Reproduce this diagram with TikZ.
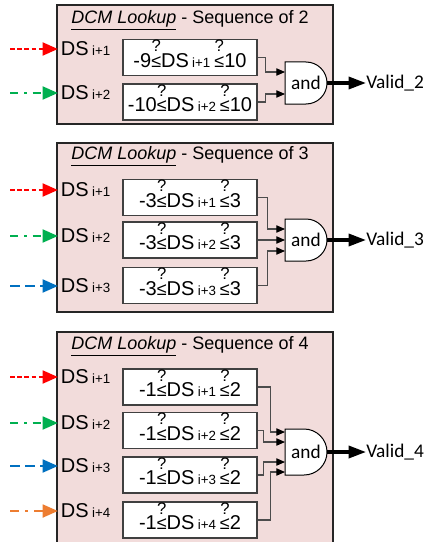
\documentclass[tikz,border=0pt]{standalone}
\usepackage{fontspec}
\setmainfont{Liberation Sans}
\newfontfamily\califont{Carlito}
\usetikzlibrary{arrows.meta}

\definecolor{panelfill}{HTML}{F2DCDB}
\definecolor{dcmred}{HTML}{FF0000}
\definecolor{dcmgreen}{HTML}{00B050}
\definecolor{dcmblue}{HTML}{0070C0}
\definecolor{dcmorange}{HTML}{ED7D31}

\newcommand{\bigsz}{\fontsize{15}{18}\selectfont}
\newcommand{\subsz}{\fontsize{10}{12}\selectfont}
\newsavebox\lebox
\newcommand{\qle}{\sbox\lebox{\fontsize{13.5}{15}\selectfont ≤}\rlap{\makebox[\wd\lebox]{\raisebox{11.6pt}{\fontsize{12.5}{14}\selectfont ?}}}\usebox\lebox}
\newcommand{\dslab}[1]{DS\,{\subsz i+#1}}
\newcommand{\lkrange}[3]{#1\qle DS\,{\subsz i+#2}\hspace{3pt}\qle #3}

\tikzset{
  panel/.style={draw=black!85, line width=0.9pt, fill=panelfill},
  titletext/.style={inner sep=0pt, font=\fontsize{13.5}{16}\selectfont},
  dslabel/.style={anchor=west, inner sep=2pt, font=\bigsz},
  rngbox/.style={draw=black!75, line width=0.9pt, fill=white, minimum width=100.5pt,
    minimum height=27pt, inner sep=0pt, text depth=6pt, font=\bigsz},
  gatebody/.style={draw=black, line width=0.75pt, fill=white},
  gatetext/.style={minimum width=31.5pt, inner sep=0pt, font=\califont\fontsize{14.5}{16}\selectfont},
  validtext/.style={anchor=west, inner sep=0pt, font=\califont\fontsize{14.5}{16}\selectfont},
  wire/.style={draw=black!70, line width=0.8pt, -{Triangle[length=6.5pt,width=5.5pt,color=black]}},
  outarrow/.style={draw=black, line width=2.5pt, -{Triangle[length=13pt,width=9pt]}},
  inarrow/.style={line width=2.1pt, -{Triangle[length=11.5pt,width=9.5pt]}},
  redin/.style={inarrow, draw=dcmred, dash pattern=on 3.4pt off 2pt},
  greenin/.style={inarrow, draw=dcmgreen, dash pattern=on 6pt off 4.5pt on 2pt off 4.5pt},
  bluein/.style={inarrow, draw=dcmblue, dash pattern=on 7.5pt off 3.75pt},
  orangein/.style={inarrow, draw=dcmorange, dash pattern=on 7pt off 4.5pt on 2pt off 4.5pt}
}

\begin{document}
\begin{tikzpicture}[x=0.75pt,y=-0.75pt]
\useasboundingbox (0,0) rectangle (429,542);

\draw[panel] (57,5) rectangle (333,124);
\node[titletext] (t1) at (190,20.5) {\underline{\textit{DCM Lookup}} - Sequence of 2};
\node[dslabel] (d11) at (58,49) {\dslab{1}};
\node[dslabel] (d12) at (58,93) {\dslab{2}};
\coordinate (s11) at (10,49);
\coordinate (s12) at (10,93);
\draw[redin] (s11) -- (d11.west);
\draw[greenin] (s12) -- (d12.west);
\node[rngbox] (b11) at (190,57.5) {\lkrange{-9}{1}{10}};
\node[rngbox] (b12) at (190,102) {\lkrange{-10}{2}{10}};
\draw[gatebody] (285,62) -- (306,62) arc[start angle=-90,end angle=90,radius=21] -- (285,104) -- cycle;
\node[gatetext] (g1) at (306,83) {and};
\coordinate (i11) at (285,72);
\coordinate (i12) at (285,94);
\draw[wire] (b11.east) -- ++(8,0) |- (i11);
\draw[wire] (b12.east) -- ++(8,0) |- (i12);
\node[validtext] (v1) at (366,83) {Valid\_2};
\draw[outarrow] (g1.east) -- (v1.west);

\draw[panel] (57,143) rectangle (333,312);
\node[titletext] (t2) at (190,156.5) {\underline{\textit{DCM Lookup}} - Sequence of 3};
\node[dslabel] (d21) at (58,190) {\dslab{1}};
\node[dslabel] (d22) at (58,236) {\dslab{2}};
\node[dslabel] (d23) at (58,286) {\dslab{3}};
\coordinate (s21) at (10,190);
\coordinate (s22) at (10,236);
\coordinate (s23) at (10,286);
\draw[redin] (s21) -- (d21.west);
\draw[greenin] (s22) -- (d22.west);
\draw[bluein] (s23) -- (d23.west);
\node[rngbox] (b21) at (190,197.5) {\lkrange{-3}{1}{3}};
\node[rngbox] (b22) at (190,240) {\lkrange{-3}{2}{3}};
\node[rngbox] (b23) at (190,285.5) {\lkrange{-3}{3}{3}};
\draw[gatebody] (285,219) -- (306,219) arc[start angle=-90,end angle=90,radius=21] -- (285,261) -- cycle;
\node[gatetext] (g2) at (306,240) {and};
\coordinate (i21) at (285,229);
\coordinate (i22) at (285,240);
\coordinate (i23) at (285,251);
\draw[wire] (b21.east) -- ++(10,0) |- (i21);
\draw[wire] (b22.east) -- (i22);
\draw[wire] (b23.east) -- ++(10,0) |- (i23);
\node[validtext] (v2) at (366,240) {Valid\_3};
\draw[outarrow] (g2.east) -- (v2.west);

\draw[panel] (57,332) rectangle (333,546);
\node[titletext] (t3) at (190,346.5) {\underline{\textit{DCM Lookup}} - Sequence of 4};
\node[dslabel] (d31) at (58,377) {\dslab{1}};
\node[dslabel] (d32) at (58,423) {\dslab{2}};
\node[dslabel] (d33) at (58,466) {\dslab{3}};
\node[dslabel] (d34) at (58,511) {\dslab{4}};
\coordinate (s31) at (10,377);
\coordinate (s32) at (10,423);
\coordinate (s33) at (10,466);
\coordinate (s34) at (10,511);
\draw[redin] (s31) -- (d31.west);
\draw[greenin] (s32) -- (d32.west);
\draw[bluein] (s33) -- (d33.west);
\draw[orangein] (s34) -- (d34.west);
\node[rngbox] (b31) at (190,387) {\lkrange{-1}{1}{2}};
\node[rngbox] (b32) at (190,430.5) {\lkrange{-1}{2}{2}};
\node[rngbox] (b33) at (190,475) {\lkrange{-1}{3}{2}};
\node[rngbox] (b34) at (190,520) {\lkrange{-1}{4}{2}};
\draw[gatebody] (285,429) -- (304,429) arc[start angle=-90,end angle=90,radius=23] -- (285,475) -- cycle;
\node[gatetext] (g3) at (306,452) {and};
\coordinate (i31) at (285,432);
\coordinate (i32) at (285,442);
\coordinate (i33) at (285,462);
\coordinate (i34) at (285,472);
\draw[wire] (b31.east) -- ++(13,0) |- (i31);
\draw[wire] (b32.east) -- ++(6,0) |- (i32);
\draw[wire] (b33.east) -- ++(6,0) |- (i33);
\draw[wire] (b34.east) -- ++(13,0) |- (i34);
\node[validtext] (v3) at (366,452) {Valid\_4};
\draw[outarrow] (g3.east) -- (v3.west);
\end{tikzpicture}
\end{document}
